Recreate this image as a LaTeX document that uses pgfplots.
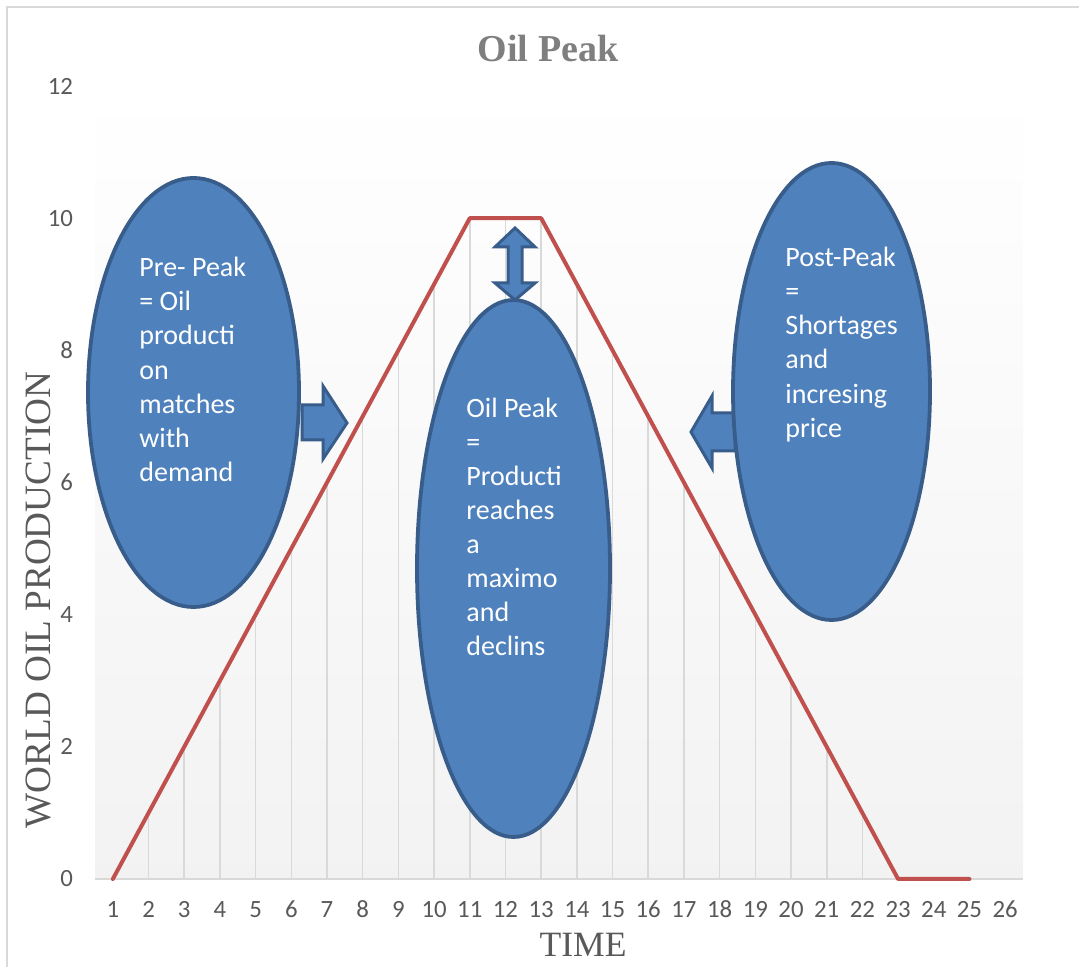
\documentclass[border=0pt]{standalone}
\usepackage{fontspec}
\setmainfont{Liberation Serif}
\newfontfamily\calib{Carlito}
\usepackage{pgfplots}
\pgfplotsset{compat=1.18}
\definecolor{ebl}{HTML}{4F81BD}
\definecolor{ebd}{HTML}{385D8A}
\definecolor{ered}{HTML}{C0504D}
\definecolor{tgray}{HTML}{595959}
\definecolor{ttl}{HTML}{7F7F7F}
\definecolor{gridc}{HTML}{D9D9D9}
\begin{document}
\begin{tikzpicture}
\useasboundingbox (0,0) rectangle (539.5pt,483.5pt);
\begin{axis}[
  at={(47.5pt,44pt)}, anchor=south west,
  width=464pt, height=396.5pt, scale only axis,
  xmin=0.5, xmax=26.5, ymin=0, ymax=12,
  xtick={1,...,26}, ytick={0,2,...,12},
  axis x line=bottom, axis y line=left,
  y axis line style={draw=none},
  x axis line style={gridc, line width=0.75pt, -},
  major tick length=0pt,
  ticklabel style={font=\calib\fontsize{12.4}{14}\selectfont, text=tgray},
  /pgf/number format/assume math mode=true,
  xticklabel style={anchor=base, yshift=-19.5pt},
  yticklabel style={xshift=-7.5pt},
  axis background/.style={top color=white, bottom color=black!5},
  clip=false,
]
\addplot[ycomb, gridc, line width=0.8pt, no marks] coordinates {
(1,0)(2,1)(3,2)(4,3)(5,4)(6,5)(7,6)(8,7)(9,8)(10,9)(11,10)(12,10)(13,10)
(14,9)(15,8)(16,7)(17,6)(18,5)(19,4)(20,3)(21,2)(22,1)(23,0)(24,0)(25,0)};
\addplot[ered, line width=2pt, no marks, line join=round, line cap=round] coordinates {
(1,0)(2,1)(3,2)(4,3)(5,4)(6,5)(7,6)(8,7)(9,8)(10,9)(11,10)(12,10)(13,10)
(14,9)(15,8)(16,7)(17,6)(18,5)(19,4)(20,3)(21,2)(22,1)(23,0)(24,0)(25,0)};
\end{axis}
\begin{scope}[x=0.5pt,y=-0.5pt,yshift=483.5pt]
% frame
\draw[gridc, line width=0.75pt] (7,967) -- (7,7) -- (1079,7);
% title and labels
\node[font=\bfseries\fontsize{19}{23}\selectfont, text=ttl] at (548,49) {Oil Peak};
\node[font=\fontsize{18.6}{22}\selectfont, text=tgray, rotate=90] at (38,600) {WORLD OIL PRODUCTION};
\node[font=\fontsize{17.8}{21}\selectfont, text=tgray] at (583,945) {TIME};
% arrows
\draw[ebd, line width=1.5pt, fill=ebl, line join=miter]
  (302,405)--(323,405)--(323,386)--(347,423)--(323,459)--(323,440)--(302,440)--cycle;
\draw[ebd, line width=1.5pt, fill=ebl, line join=miter]
  (735,413)--(712,413)--(712,396)--(691,432)--(712,468)--(712,451)--(735,451)--cycle;
\draw[ebd, line width=1.5pt, fill=ebl, line join=miter]
  (515,228)--(535,247)--(522,247)--(522,283)--(535,283)--(515,300)--(495,283)--(508,283)--(508,247)--(495,247)--cycle;
% ellipses
\draw[ebd, line width=1.9pt, fill=ebl] (193.5,392.5) ellipse [x radius=105.5, y radius=214.5];
\draw[ebd, line width=1.9pt, fill=ebl] (513.5,568.5) ellipse [x radius=96.5, y radius=268.5];
\draw[ebd, line width=1.9pt, fill=ebl] (831.5,391.5) ellipse [x radius=98.5, y radius=228.5];
% texts
\begin{scope}[every node/.style={anchor=base west, inner sep=0pt, text=white, font=\calib\fontsize{14}{17}\selectfont}]
\node at (139,277) {Pre- Peak};
\node at (139,311) {= Oil};
\node at (139,345) {producti};
\node at (139,380) {on};
\node at (139,414) {matches};
\node at (139,448) {with};
\node at (139,482) {demand};
\node at (466,418) {Oil Peak};
\node at (466,452) {=};
\node at (466,486) {Producti};
\node at (466,520) {reaches};
\node at (466,554) {a};
\node at (466,588) {maximo};
\node at (466,622) {and};
\node at (466,656) {declins};
\node at (785,267) {Post-Peak};
\node at (785,301) {=};
\node at (785,335) {Shortages};
\node at (785,369) {and};
\node at (785,404) {incresing};
\node at (785,438) {price};
\end{scope}
\end{scope}
\end{tikzpicture}
\end{document}
